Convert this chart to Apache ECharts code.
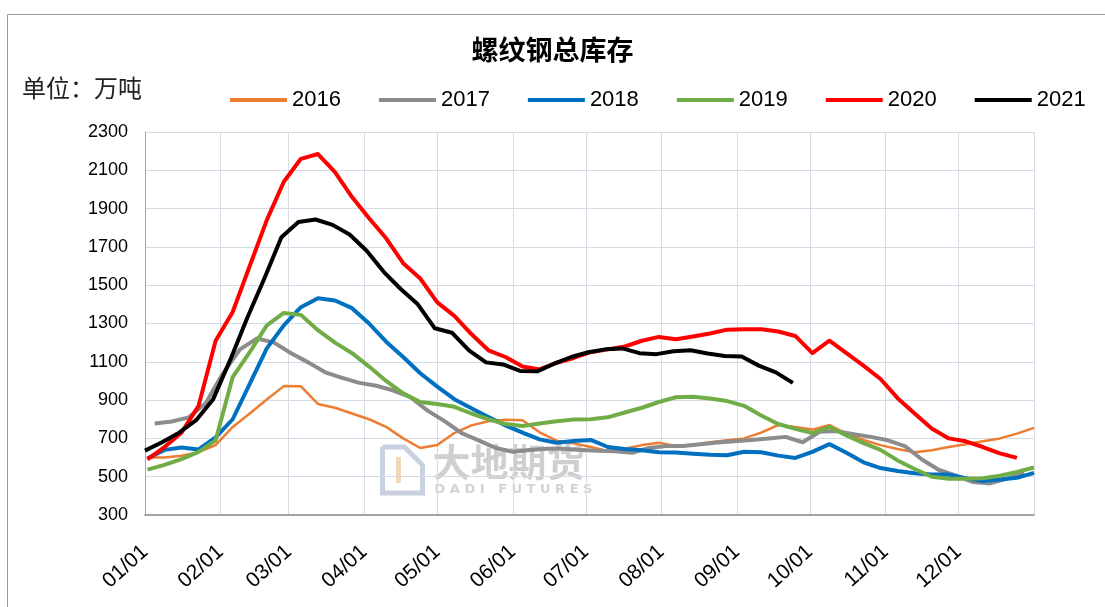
<!DOCTYPE html>
<html>
<head>
<meta charset="utf-8">
<title>螺纹钢总库存</title>
<script src="https://cdn.jsdelivr.net/npm/echarts@6/dist/echarts.min.js"></script>
<style>
  html, body { margin: 0; padding: 0; background: #fff; }
  #main { width: 1105px; height: 607px; }
</style>
</head>
<body>
<div id="main"></div>
<script>
// month tick labels shown on the x axis
var monthLabels = ['01/01', '02/01', '03/01', '04/01', '05/01', '06/01',
    '07/01', '08/01', '09/01', '10/01', '11/01', '12/01'];
var years = ['2016', '2017', '2018', '2019', '2020', '2021'];
var colors = ['#ED7D31', '#8C8C8C', '#0070C0', '#70AD47', '#FF0000', '#000000'];

// weekly stock readings (万吨), first point on day-of-year start*
var start2016 = 1;
var v2016 = [600, 600, 610, 628, 665, 760, 830, 903, 973, 972, 880, 860, 830, 800, 760, 700,
    650, 665, 728, 768, 790, 798, 795, 732, 688, 674, 655, 635, 646, 665, 677, 661, 667, 680,
    690, 700, 730, 770, 760, 746, 770, 725, 692, 665, 645, 628, 638, 655, 670, 685, 700, 725, 755];
var start2017 = 4;
var v2017 = [778, 788, 810, 885, 1040, 1165, 1222, 1200, 1145, 1097, 1045, 1016, 990, 975, 950,
    915, 845, 790, 728, 690, 650, 630, 640, 646, 646, 640, 635, 633, 625, 650, 660, 660, 670,
    678, 685, 692, 700, 708, 680, 735, 738, 722, 708, 690, 660, 590, 535, 505, 472, 465, 490, 520];
var start2018 = 1;
var v2018 = [595, 640, 652, 642, 705, 800, 985, 1170, 1290, 1385, 1432, 1420, 1380, 1300, 1205,
    1125, 1040, 970, 905, 857, 812, 768, 730, 695, 677, 686, 692, 655, 645, 638, 628, 626, 620,
    615, 612, 630, 628, 610, 598, 630, 670, 625, 575, 545, 530, 518, 511, 511, 492, 478, 485, 494, 520];
var start2019 = 1;
var v2019 = [537, 562, 592, 630, 690, 1020, 1150, 1290, 1355, 1345, 1265, 1200, 1145, 1075, 1000,
    935, 890, 880, 865, 830, 800, 775, 765, 778, 790, 799, 800, 810, 835, 860, 890, 915, 918,
    908, 895, 870, 820, 775, 750, 728, 760, 715, 675, 640, 585, 540, 500, 489, 489, 492, 505, 525, 548];
var start2020 = 1;
var v2020 = [590, 655, 730, 870, 1210, 1360, 1600, 1840, 2040, 2160, 2185, 2090, 1960, 1850,
    1745, 1615, 1535, 1410, 1340, 1245, 1160, 1125, 1075, 1060, 1095, 1120, 1150, 1165, 1180,
    1210, 1230, 1218, 1232, 1248, 1268, 1270, 1270, 1258, 1235, 1145, 1210, 1145, 1080, 1010,
    910, 830, 752, 700, 685, 655, 622, 598];
var start2021 = 0;
var v2021 = [636, 680, 730, 795, 905, 1110, 1330, 1535, 1750, 1830, 1843, 1815, 1765, 1680,
    1570, 1480, 1400, 1275, 1252, 1160, 1097, 1086, 1052, 1050, 1090, 1125, 1150, 1165, 1170,
    1145, 1140, 1155, 1160, 1143, 1130, 1128, 1080, 1045, 990];

var starts = [start2016, start2017, start2018, start2019, start2020, start2021];
var values = [v2016, v2017, v2018, v2019, v2020, v2021];

// one category per calendar day, 01/01 .. next 01/01
var days = [];
for (var d = 0; d <= 365; d++) {
    var dt = new Date(Date.UTC(2021, 0, 1 + d));
    var mm = ('0' + (dt.getUTCMonth() + 1)).slice(-2);
    var dd = ('0' + dt.getUTCDate()).slice(-2);
    days.push(mm + '/' + dd);
}

function weekly(startDay, vals) {
    return vals.map(function (v, i) {
        return [startDay + 7 * i, v];
    });
}

var myChart = echarts.init(document.getElementById('main'));

var series = years.map(function (y, i) {
    return {
        name: y,
        type: 'line',
        data: weekly(starts[i], values[i]),
        showSymbol: false,
        symbol: 'none',
        smooth: false,
        lineStyle: {
            color: colors[i],
            width: i === 0 ? 2.5 : 4,
            join: 'round'
        },
        itemStyle: { color: colors[i] },
        z: 3 + i
    };
});

var option = {
    backgroundColor: '#fff',
    animation: false,
    title: {
        text: '螺纹钢总库存',
        left: 'center',
        top: 31,
        textStyle: {
            fontFamily: 'Noto Sans CJK SC',
            fontWeight: 'bold',
            fontSize: 27,
            color: '#000'
        }
    },
    legend: {
        data: years,
        left: 225,
        top: 84,
        icon: 'rect',
        itemWidth: 57,
        itemHeight: 4,
        itemGap: 38,
        textStyle: {
            fontFamily: 'Liberation Sans',
            fontSize: 22,
            color: '#000'
        }
    },
    graphic: [
        {
            type: 'rect',
            left: 5, top: 12,
            shape: { width: 1120, height: 620 },
            style: { fill: 'none', stroke: '#9a9a9a', lineWidth: 1 },
            z: -10
        },
        {
            type: 'text',
            left: 22, top: 76,
            style: {
                text: '单位：万吨',
                font: '24px "Noto Sans CJK SC"',
                fill: '#222'
            }
        },
        // faint watermark
        {
            type: 'group',
            left: 380, top: 443,
            z: -1,
            children: [
                {
                    type: 'polyline',
                    shape: { points: [[8, 4], [8, 50], [48, 50], [48, 22], [30, 4], [8, 4]] },
                    style: { stroke: '#c9d0e0', lineWidth: 5, fill: 'none' }
                },
                {
                    type: 'line',
                    shape: { x1: 24, y1: 14, x2: 24, y2: 40 },
                    style: { stroke: '#f2d8b8', lineWidth: 5 }
                },
                {
                    type: 'text',
                    x: 58, y: 0,
                    style: {
                        text: '大地期货',
                        font: 'bold 38px "Noto Sans CJK SC"',
                        fill: '#cfcfcf'
                    }
                },
                {
                    type: 'text',
                    x: 60, y: 40,
                    style: {
                        text: 'D A D I   F U T U R E S',
                        font: 'bold 13px "DejaVu Sans"',
                        fill: '#d3d3d3'
                    }
                }
            ]
        }
    ],
    grid: {
        left: 145,
        right: 71,
        top: 132,
        bottom: 92,
        containLabel: false
    },
    xAxis: {
        type: 'category',
        data: days,
        boundaryGap: false,
        axisLine: { show: true, lineStyle: { color: '#8c8c8c', width: 1.5 } },
        axisTick: { show: false },
        axisLabel: {
            interval: function (idx, val) {
                return idx < 365 && monthLabels.indexOf(val) >= 0;
            },
            rotate: 42,
            margin: 34,
            fontFamily: 'Liberation Sans',
            fontSize: 21,
            color: '#000'
        },
        splitLine: {
            show: true,
            interval: function (idx, val) {
                return val.slice(-3) === '/01';
            },
            lineStyle: { color: '#d5dce8', width: 1 }
        }
    },
    yAxis: {
        type: 'value',
        min: 300,
        max: 2300,
        interval: 200,
        axisLine: { show: true, lineStyle: { color: '#a6a6a6', width: 1 } },
        axisTick: { show: false },
        axisLabel: {
            margin: 17,
            fontFamily: 'Liberation Sans',
            fontSize: 18,
            color: '#000',
            formatter: function (v) { return String(v); }
        },
        splitLine: {
            show: true,
            lineStyle: { color: '#d5dce8', width: 1 }
        }
    },
    series: series
};

myChart.setOption(option);
</script>
</body>
</html>
